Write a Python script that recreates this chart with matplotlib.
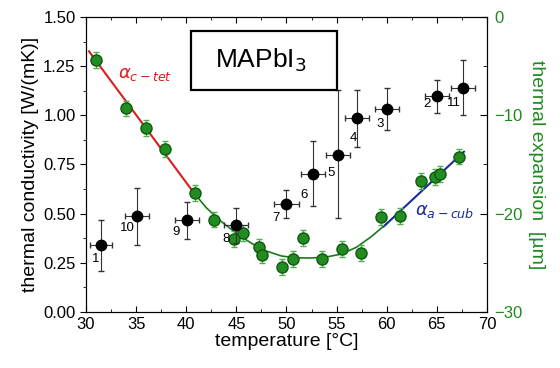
import numpy as np
import matplotlib.pyplot as plt
from matplotlib.ticker import MultipleLocator
from matplotlib.patches import Rectangle

plt.rcParams['font.family'] = ['Liberation Sans', 'DejaVu Sans']

# thermal conductivity (black, left axis)
k_T = [31.5, 35.1, 40.1, 45.0, 50.0, 52.6, 55.1, 57.0, 60.0, 65.0, 67.6]
k_val = [0.34, 0.49, 0.47, 0.44, 0.55, 0.70, 0.80, 0.985, 1.03, 1.10, 1.14]
k_lo = [0.13, 0.15, 0.10, 0.09, 0.07, 0.16, 0.32, 0.145, 0.105, 0.09, 0.14]
k_hi = [0.13, 0.14, 0.09, 0.09, 0.07, 0.17, 0.33, 0.145, 0.11, 0.08, 0.14]
k_xerr = [1.1, 1.2, 1.2, 1.2, 1.2, 1.2, 1.2, 1.2, 1.2, 1.2, 1.2]
k_names = ['1', '10', '9', '8', '7', '6', '5', '4', '3', '2', '11']
k_offs = [(-5, -14), (-10, -12), (-11, -12), (-10, -14), (-10, -14), (-8, -21),
          (-7, -18), (-3, -20), (-7, -15), (-10, -8), (-9, -15)]

# thermal expansion (green, right axis)
d_T = [31.0, 34.0, 36.0, 37.9, 40.9, 42.8, 44.8, 45.65, 47.25, 47.6, 49.6, 50.6,
       51.6, 53.5, 55.5, 57.4, 59.4, 61.3, 63.4, 64.8, 65.3, 67.2]
d_val = [-4.4, -9.3, -11.3, -13.4, -17.9, -20.6, -22.6, -22.0, -23.4, -24.2, -25.4, -24.6,
         -22.5, -24.6, -23.6, -24.0, -20.3, -20.2, -16.7, -16.3, -16.0, -14.2]
d_err = 0.8

# fit curve
fit_T = [40.7, 42.0, 43.5, 45.0, 46.5, 48.0, 49.5, 51.0, 52.5, 54.0, 55.5, 57.0, 58.5, 60.0]
fit_d = [-17.8, -19.4, -20.8, -22.0, -23.0, -23.8, -24.3, -24.5, -24.5, -24.4, -24.1, -23.4, -22.3, -21.0]
tet_T = [30.3, 40.7]
tet_d = [-3.5, -17.8]
cub_T = [59.7, 67.7]
cub_d = [-21.3, -13.7]

green = '#1e8a1e'
fig = plt.figure(figsize=(5.6, 3.68), dpi=100)
ax = fig.add_axes([0.1536, 0.152, 0.716, 0.802])
ax2 = ax.twinx()

ax2.errorbar(d_T, d_val, yerr=d_err, fmt='o', ms=8, mfc='#228b22', mec='#0f5a0f',
             ecolor='#4caf50', elinewidth=0.9, capsize=2.5, zorder=3)
ax2.plot(fit_T, fit_d, color='#1a7a1a', lw=1.2, zorder=2)
ax2.plot(tet_T, tet_d, color='#d81e1e', lw=1.5, zorder=2)
ax2.plot(cub_T, cub_d, color='#1a2d9a', lw=1.5, zorder=2)
ax2.text(33.2, -5.9, r'$\alpha_{c-tet}$', color='#d81e1e', fontsize=13, ha='left', va='center')
ax2.text(62.8, -19.8, r'$\alpha_{a-cub}$', color='#1a2d9a', fontsize=13, ha='left', va='center')

ax.set_zorder(ax2.get_zorder() + 1)
ax.patch.set_visible(False)
ax.errorbar(k_T, k_val, yerr=[k_lo, k_hi], xerr=k_xerr, fmt='o', ms=7.5, mfc='black',
            mec='black', ecolor='#333333', elinewidth=0.8, capsize=2.5, zorder=3)
for t, v, n, o in zip(k_T, k_val, k_names, k_offs):
    ax.annotate(n, (t, v), xytext=o, textcoords='offset pixels', fontsize=9.5,
                ha='center', va='center')

ax.set_xlim(30, 70)
ax.set_ylim(0, 1.5)
ax2.set_ylim(-30, 0)
ax.xaxis.set_major_locator(MultipleLocator(5))
ax.xaxis.set_minor_locator(MultipleLocator(2.5))
ax.yaxis.set_major_locator(MultipleLocator(0.25))
ax.yaxis.set_minor_locator(MultipleLocator(0.125))
ax2.yaxis.set_major_locator(MultipleLocator(10))
ax2.yaxis.set_minor_locator(MultipleLocator(5))
ax.tick_params(axis='x', which='both', direction='in', top=True, labelsize=12)
ax.tick_params(axis='y', which='both', direction='out', labelsize=12)
ax.tick_params(which='major', length=4)
ax.tick_params(which='minor', length=2.5)
ax2.tick_params(which='both', direction='in', labelsize=12, labelcolor=green, pad=5)
ax2.tick_params(which='major', length=5)
ax2.tick_params(which='minor', length=3)

ax.set_xlabel('temperature [°C]', fontsize=14, labelpad=1)
ax.set_ylabel('thermal conductivity [W/(mK)]', fontsize=14, labelpad=3)
ax2.set_ylabel('thermal expansion  [µm]', fontsize=14, color=green, rotation=270, labelpad=16)

ax.add_patch(Rectangle((0.262, 0.753), 0.364, 0.2, transform=ax.transAxes, fc='white',
                       ec='black', lw=1.6, zorder=5))
ax.text(0.435, 0.854, r'MAPbI$_3$', transform=ax.transAxes, fontsize=19, ha='center',
        va='center', zorder=6)

fig.savefig('out.png', dpi=100)
